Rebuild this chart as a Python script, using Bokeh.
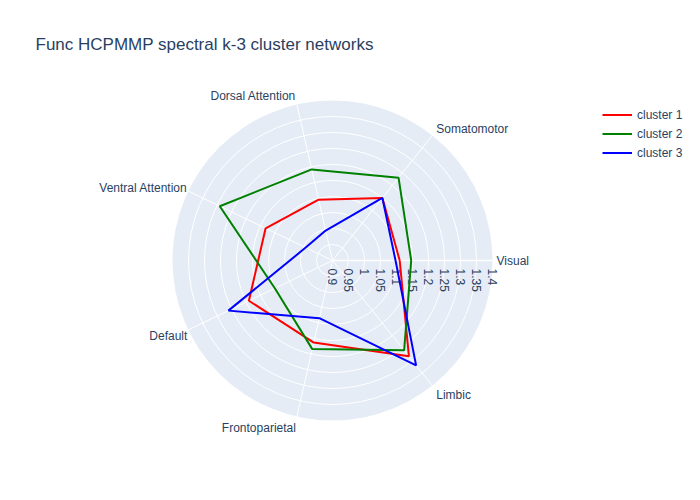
import numpy as np
from bokeh.plotting import figure
from bokeh.models import Range1d, Legend, LegendItem
from bokeh.embed import file_html
from bokeh.resources import INLINE
from bokeh.core.properties import value

# ---------------- data ----------------
chart_title = "Func HCPMMP spectral k-3 cluster networks"
networks = ["Visual", "Somatomotor", "Dorsal Attention", "Ventral Attention",
            "Default", "Frontoparietal", "Limbic"]
cluster1 = [1.110, 1.150, 1.095, 1.132, 1.190, 1.163, 1.283]
cluster2 = [1.146, 1.231, 1.192, 1.291, 1.100, 1.184, 1.259]
cluster3 = [1.097, 1.150, 0.996, 0.993, 1.261, 1.085, 1.319]
series_names = ["cluster 1", "cluster 2", "cluster 3"]
series_values = [cluster1, cluster2, cluster3]
series_colors = ["red", "green", "blue"]
r_ticks = [0.9, 0.95, 1.0, 1.05, 1.1, 1.15, 1.2, 1.25, 1.3, 1.35, 1.4]
r_tick_labels = ["0.9", "0.95", "1", "1.05", "1.1", "1.15", "1.2", "1.25", "1.3", "1.35", "1.4"]
r_min, r_max = 0.9, 1.4

# ---------------- geometry ----------------
W, H = 700, 500
CX, CY = 332, H - 260
R = 160
FONT_NAME = "Liberation Sans"
FONT = value(FONT_NAME)
TXT = "#2a3f5f"

n = len(networks)
ang = np.deg2rad(np.arange(n) * 360.0 / n)


def to_px(r):
    return (np.asarray(r, dtype=float) - r_min) / (r_max - r_min) * R


def pol(r, a):
    rr = to_px(r)
    return CX + rr * np.cos(a), CY + rr * np.sin(a)


p = figure(width=W, height=H, x_range=Range1d(0, W), y_range=Range1d(0, H),
           output_backend="svg", toolbar_location=None, min_border=0,
           x_axis_location=None, y_axis_location=None)
p.grid.visible = False
p.outline_line_color = None
p.background_fill_color = "white"
p.border_fill_color = "white"

# polar background
p.circle(x=[CX], y=[CY], radius=R, fill_color="#E5ECF6", line_color=None)
# circular grid
grid_r = [float(to_px(t)) for t in r_ticks[1:-1]]
p.circle(x=[CX] * len(grid_r), y=[CY] * len(grid_r), radius=grid_r,
         fill_color=None, line_color="white", line_width=1)
# angular grid
ex, ey = pol([r_max] * n, ang)
p.segment(x0=[CX] * n, y0=[CY] * n, x1=ex, y1=ey, line_color="white", line_width=1)
# radial axis line
p.segment(x0=[CX], y0=[CY], x1=[CX + R], y1=[CY], line_color="white", line_width=1.5)

# radial tick labels (rotated)
tx = CX + to_px(r_ticks)
p.text(x=tx, y=[CY - 8] * len(r_ticks), text=r_tick_labels, angle=-np.pi / 2,
       text_align="left", text_baseline="middle", text_font=FONT,
       text_font_size="12px", text_color=TXT)

# angular labels
lx, ly, aligns = [], [], []
for i, a in enumerate(ang):
    c, s = np.cos(a), np.sin(a)
    x0, y0 = CX + R * c, CY + R * s
    if c > 0.05:
        aligns.append("left")
        x0 += 4
    elif c < -0.05:
        aligns.append("right")
        x0 -= 1
    else:
        aligns.append("center")
    y0 = y0 + s * 10 - (1.5 if abs(s) > 0.1 else 0.0)
    lx.append(x0)
    ly.append(y0)
for i in range(n):
    p.text(x=[lx[i]], y=[ly[i]], text=[networks[i]], text_align=aligns[i],
           text_baseline="middle", text_font=FONT, text_font_size="12px",
           text_color=TXT)

# data lines
items = []
for name, vals, col in zip(series_names, series_values, series_colors):
    vv = list(vals) + [vals[0]]
    aa = list(ang) + [ang[0]]
    xs, ys = pol(vv, np.array(aa))
    rend = p.line(x=xs, y=ys, line_color=col, line_width=2)
    items.append(LegendItem(label=name, renderers=[rend]))

legend = Legend(items=items, location=(602, H - 104.5 - 57.6), orientation="vertical",
                glyph_width=30, glyph_height=19, label_height=19, label_standoff=5,
                spacing=0, padding=0, margin=0, border_line_color=None,
                background_fill_alpha=0, label_text_font=FONT_NAME,
                label_text_font_size="12px", label_text_color=TXT)
p.add_layout(legend)

# title
p.text(x=[35], y=[H - 44], text=[chart_title], text_align="left",
       text_baseline="middle", text_font=FONT, text_font_size="17px",
       text_color=TXT)

open("out.html", "w").write(file_html(p, INLINE))
